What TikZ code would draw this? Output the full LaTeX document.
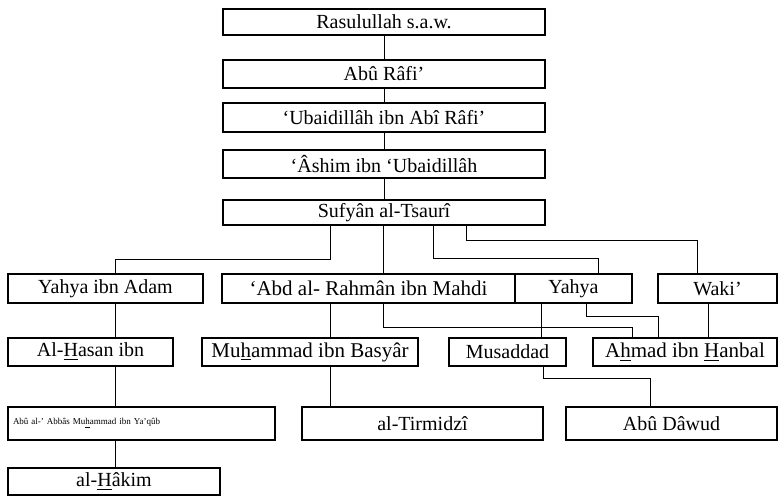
\documentclass[tikz,border=0pt]{standalone}
\usepackage{fontspec}
\setmainfont{Liberation Serif}
\usetikzlibrary{calc}

\begin{document}
\begin{tikzpicture}[x=0.5pt,y=-0.5pt,
  osoba/.style={draw, line width=0.75pt, inner sep=0pt, font=\fontsize{10}{12}\selectfont}]
\useasboundingbox (0,0) rectangle (778,496);
% sanad utama
\node[osoba, minimum width=161pt, minimum height=13pt](rasul) at (384,22){Rasulullah s.a.w.};
\node[osoba, minimum width=161pt, minimum height=14pt](aburafi) at (384,74){Abû Râfi’};
\node[osoba, minimum width=161pt, minimum height=14.5pt](ubaidillah) at (384,117.5){‘Ubaidillâh ibn Abî Râfi’};
\node[osoba, minimum width=161pt, minimum height=14pt](ashim) at (384,164){‘Âshim ibn ‘Ubaidillâh};
\node[osoba, minimum width=161pt, minimum height=12.5pt](sufyan) at (384,212.5){Sufyân al-Tsaurî};
% tingkat 2
\node[osoba, minimum width=97.5pt, minimum height=14.5pt](yahyaadam) at (105.5,288.5){Yahya ibn Adam};
\node[osoba, minimum width=146.5pt, minimum height=14.5pt, font=\fontsize{10.5}{12}\selectfont](abdrahman) at (368.5,288.5){‘Abd al- Rahmân ibn Mahdi};
\node[osoba, minimum width=58.5pt, minimum height=14.5pt](yahya) at (573.5,288.5){Yahya};
\node[osoba, minimum width=59.5pt, minimum height=14.5pt](waki) at (717.5,288.5){Waki’};
% tingkat 3
\node[osoba, minimum width=82.5pt, minimum height=14pt](hasan) at (90.5,352){Al-\underline{H}asan ibn};
\node[osoba, minimum width=108pt, minimum height=14pt, font=\fontsize{10.5}{12}\selectfont](basyar) at (310,352){Mu\underline{h}ammad ibn Basyâr};
\node[osoba, minimum width=58.5pt, minimum height=14pt](musaddad) at (507.5,352){Musaddad};
\node[osoba, minimum width=92pt, minimum height=14pt, font=\fontsize{10.5}{12}\selectfont](hanbal) at (685,352){A\underline{h}mad ibn \underline{H}anbal};
% tingkat 4
\node[osoba, text width=128.5pt, inner xsep=2.5pt, align=left, minimum height=16.5pt,
  font=\fontsize{4.5}{5}\selectfont](abbas) at (141.5,423.5){Abû al-’ Abbâs Mu\underline{h}ammad ibn Ya’qûb};
\node[osoba, minimum width=120.5pt, minimum height=16.5pt](tirmidzi) at (422.5,423.5){al-Tirmidzî};
\node[osoba, minimum width=105.5pt, minimum height=16.5pt](dawud) at (671.5,423.5){Abû Dâwud};
% tingkat 5
\node[osoba, minimum width=106pt, minimum height=13.5pt](hakim) at (114,481.5){al-\underline{H}âkim};

% garis
\draw (rasul) -- (aburafi);
\draw (aburafi) -- (ubaidillah);
\draw (ubaidillah) -- (ashim);
\draw (ashim) -- (sufyan);
\draw (sufyan.south -| 330,0) |- (115,259) -- (yahyaadam.north -| 115,0);
\draw (sufyan.south -| 383,0) -- (abdrahman.north -| 383,0);
\draw (sufyan.south -| 433,0) |- (598,258) -- (yahya.north -| 598,0);
\draw (sufyan.south -| 466,0) |- (697,240) -- (waki.north -| 697,0);
\draw (yahyaadam.south -| 115,0) -- (hasan.north -| 115,0);
\draw (abdrahman.south -| 330,0) -- (basyar.north -| 330,0);
\draw (abdrahman.south -| 383,0) |- (632,327) -- (hanbal.north -| 632,0);
\draw (yahya.south -| 541,0) -- (musaddad.north -| 541,0);
\draw (yahya.south -| 586,0) |- (658,316) -- (hanbal.north -| 658,0);
\draw (waki.south -| 708,0) -- (hanbal.north -| 708,0);
\draw (hasan.south -| 115,0) -- (abbas.north -| 115,0);
\draw (basyar.south -| 330,0) -- (tirmidzi.north -| 330,0);
\draw (musaddad.south -| 543,0) |- (650,378) -- (dawud.north -| 650,0);
\draw (abbas.south -| 115,0) -- (hakim.north -| 115,0);
\end{tikzpicture}
\end{document}
